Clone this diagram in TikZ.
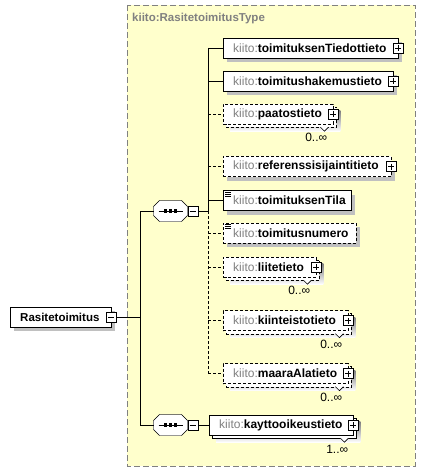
\documentclass[tikz,border=0pt]{standalone}
\usepackage{fontspec}
\setmainfont{Liberation Sans}
\usetikzlibrary{shadows}
\usetikzlibrary{positioning}

\definecolor{typebg}{RGB}{255,255,204}
\definecolor{nsgray}{RGB}{128,128,128}
\definecolor{shade}{RGB}{192,192,192}
\newcommand{\kt}[1]{\mbox{\textcolor{nsgray}{kiito:}\textbf{#1}}}
\pgfdeclarelayer{back}
\pgfsetlayers{back,main}

\begin{document}
\begin{tikzpicture}[x=1pt,y=-1pt,line width=0.9pt,
        font=\fontsize{12}{14}\selectfont,
        elem/.style = {draw,fill=white,anchor=west,inner xsep=10pt,inner ysep=0pt,
            minimum height=20pt,text width=#1,align=left},
        single/.style = {drop shadow={shadow xshift=4pt,shadow yshift=-4pt,
            fill=shade,opacity=1}},
        opt/.style = {dash pattern=on 3pt off 2pt},
        plus/.style = {draw,solid,fill=white,minimum size=10pt,inner sep=0pt,
            path picture={\draw ([xshift=2pt]path picture bounding box.west)
                -- ([xshift=-2pt]path picture bounding box.east)
                ([yshift=-2pt]path picture bounding box.north)
                -- ([yshift=2pt]path picture bounding box.south);}},
        minus/.style = {draw,fill=white,minimum size=10pt,inner sep=0pt,
            path picture={\draw ([xshift=2pt]path picture bounding box.west)
                -- ([xshift=-2pt]path picture bounding box.east);}},
        seq/.style = {minimum width=34pt,minimum height=21pt,inner sep=0pt,outer sep=0pt},
        mult/.style = {anchor=north east,inner sep=0pt}]
    \useasboundingbox (0,0) rectangle (426,473);

    % the type box
    \begin{pgfonlayer}{back}
        \fill[typebg] (127,5) rectangle (415,466);
        \draw[nsgray,dash pattern=on 6pt off 3pt] (127,5) rectangle (415,466);
    \end{pgfonlayer}
    \node[anchor=west,inner sep=0pt,text=nsgray,font=\fontsize{11.5}{13}\selectfont\bfseries]
        (title) at (132,19) {kiito:RasitetoimitusType};

    % root element
    \node[elem=81pt,single,font=\fontsize{11.5}{13}\selectfont] (root) at (10,317)
        {\mbox{\textbf{Rasitetoimitus}}};
    \node[minus] (rootm) at (root.east) {};

    % sequences
    \node[seq] (s1) at (170.5,211) {};
    \node[seq] (s2) at (170.5,425) {};
    \foreach \n in {s1,s2} {
        \fill[shade,shift={(4,4)}] ([xshift=6pt]\n.north west) -- ([xshift=-6pt]\n.north east)
            -- ([yshift=-6pt]\n.north east) -- ([yshift=6pt]\n.south east)
            -- ([xshift=-6pt]\n.south east) -- ([xshift=6pt]\n.south west)
            -- ([yshift=6pt]\n.south west) -- ([yshift=-6pt]\n.north west) -- cycle;
        \draw[fill=white] ([xshift=6pt]\n.north west) -- ([xshift=-6pt]\n.north east)
            -- ([yshift=-6pt]\n.north east) -- ([yshift=6pt]\n.south east)
            -- ([xshift=-6pt]\n.south east) -- ([xshift=6pt]\n.south west)
            -- ([yshift=6pt]\n.south west) -- ([yshift=-6pt]\n.north west) -- cycle;
        \draw ([xshift=5pt]\n.west) -- ([xshift=-5pt]\n.east);
        \foreach \d in {-5,0,5}
            \fill ([xshift=\d pt]\n.center) ++(-1.6,-1.6) rectangle ++(3.2,3.2);
    }
    \node[minus,anchor=west] (s1m) at (s1.east) {};
    \node[minus,anchor=west] (s2m) at (s2.east) {};

    % children of the first sequence
    \node[elem=155pt,single] (t1) at (223,48) {\kt{toimituksenTiedottieto}};
    \node[elem=150pt,single] (t2) at (223,81) {\kt{toimitushakemustieto}};
    \node[elem=90pt,opt] (t3) at (223,114) {\kt{paatostieto}};
    \node[elem=148pt,opt,single] (t4) at (223,166.5) {\kt{referenssisijaintitieto}};
    \node[elem=108pt,single] (t5) at (223,200.5) {\kt{toimituksenTila}};
    \node[elem=113pt,opt,single] (t6) at (223,233) {\kt{toimitusnumero}};
    \node[elem=73pt,opt] (t7) at (223,267) {\kt{liitetieto}};
    \node[elem=105pt,opt] (t8) at (223,320.5) {\kt{kiinteistotieto}};
    \node[elem=105pt,opt] (t9) at (223,373.5) {\kt{maaraAlatieto}};

    % child of the second sequence
    \node[elem=124pt] (kt) at (209,425) {\kt{kayttooikeustieto}};

    % stacked boxes of repeated elements
    \begin{pgfonlayer}{back}
        \foreach \n/\s in {t3/opt,t7/opt,t8/opt,t9/opt,kt/solid} {
            \fill[shade] ([shift={(7,7)}]\n.north west) rectangle ([shift={(7,7)}]\n.south east);
            \draw[\s,fill=white] ([shift={(3,3)}]\n.north west) rectangle ([shift={(3,3)}]\n.south east);
            \draw[solid,fill=white,line width=0.6pt] ([shift={(-13,3)}]\n.south east)
                -- ([shift={(-9,7)}]\n.south east) -- ([shift={(-5,3)}]\n.south east);
        }
    \end{pgfonlayer}
    \node[mult] (t3c) at ([shift={(-6,9)}]t3.south east) {0..∞};
    \node[mult] (t7c) at ([shift={(-6,9)}]t7.south east) {0..∞};
    \node[mult] (t8c) at ([shift={(-6,9)}]t8.south east) {0..∞};
    \node[mult] (t9c) at ([shift={(-6,9)}]t9.south east) {0..∞};
    \node[mult] (ktc) at ([shift={(-5,10)}]kt.south east) {1..∞};

    % expand boxes
    \foreach \n in {t1,t2,t3,t4,t7,t8,t9,kt}
        \node[plus] (\n p) at (\n.east) {};

    % simple type marks
    \foreach \n in {t5,t6}
        \foreach \k in {2,4,6}
            \draw[solid,line width=0.7pt] ([shift={(2,\k)}]\n.north west) -- ++(6,0);

    % connectors
    \coordinate (rootjoin) at (140,317);
    \coordinate (seqjoin) at (208,211);
    \draw (rootm.east) -- (rootjoin);
    \draw (s1.west -| rootjoin) -- (s2.west -| rootjoin);
    \draw (s1.west -| rootjoin) -- (s1.west);
    \draw (s2.west -| rootjoin) -- (s2.west);
    \draw (s1m.east) -- (seqjoin);
    \draw (t1.west -| seqjoin) -- (seqjoin);
    \draw[opt] (seqjoin) -- (t9.west -| seqjoin);
    \foreach \n in {t1,t2,t5}
        \draw (\n.west -| seqjoin) -- (\n.west);
    \foreach \n in {t3,t4,t6,t7,t8,t9}
        \draw[opt] (\n.west -| seqjoin) -- (\n.west);
    \draw (s2m.east) -- (kt.west);
\end{tikzpicture}
\end{document}
